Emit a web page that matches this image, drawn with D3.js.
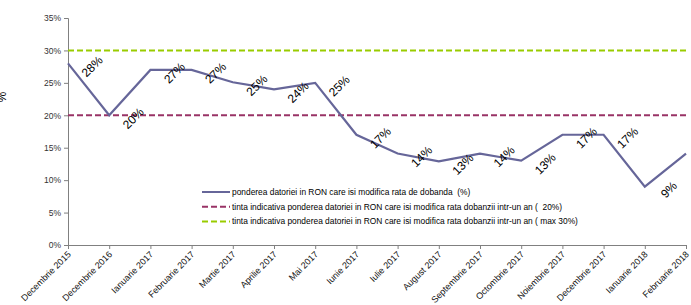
<!DOCTYPE html>
<html>
<head>
<meta charset="utf-8">
<script src="https://cdn.jsdelivr.net/npm/d3@7"></script>
<style>
  body { margin: 0; background: #fff; }
  svg { font-family: "Liberation Sans", Arial, sans-serif; }
</style>
</head>
<body>
<svg id="chart"></svg>
<script>
var width = 691, height = 305;

var categories = ["Decembrie 2015", "Decembrie 2016", "Ianuarie 2017", "Februarie 2017",
  "Martie 2017", "Aprilie 2017", "Mai 2017", "Iunie 2017", "Iulie 2017", "August 2017",
  "Septembrie 2017", "Octombrie 2017", "Noiembrie 2017", "Decembrie 2017",
  "Ianuarie 2018", "Februarie 2018"];
var pondere = [0.28, 0.20, 0.27, 0.27, 0.251, 0.24, 0.25, 0.17, 0.141, 0.129,
  0.141, 0.13, 0.17, 0.17, 0.09, 0.141];
var tinta20 = 0.20;
var tinta30 = 0.30;
var yTicks = [0, 0.05, 0.10, 0.15, 0.20, 0.25, 0.30, 0.35];
var legendLabels = [
  "ponderea datoriei in RON care isi modifica rata de dobanda  (%)",
  "tinta indicativa ponderea datoriei in RON care isi modifica rata dobanzii intr-un an (  20%)",
  "tinta indicativa ponderea datoriei in RON care isi modifica rata dobanzii intr-un an ( max 30%)"
];

var svg = d3.select("#chart").attr("width", width).attr("height", height);

var x = d3.scalePoint().domain(categories).range([68, 686]);
var y = d3.scaleLinear().domain([0, 0.35]).range([245, 18]);
var pct = d3.format(".0%");

// y axis
var yAxis = svg.append("g")
    .attr("transform", "translate(68,0)")
    .call(d3.axisLeft(y).tickValues(yTicks).tickFormat(pct).tickSizeOuter(0).tickSize(4).tickPadding(3));
yAxis.select(".domain").attr("stroke", "#808080");
yAxis.selectAll(".tick line").attr("stroke", "#808080");
yAxis.selectAll(".tick text").attr("fill", "#333").style("font-size", "8.5px")
    .style("font-family", "Liberation Sans, Arial, sans-serif");

// x axis
var xAxis = svg.append("g")
    .attr("transform", "translate(0,245)")
    .call(d3.axisBottom(x).tickSizeOuter(0).tickSize(4));
xAxis.select(".domain").attr("stroke", "#808080");
xAxis.selectAll(".tick line").attr("stroke", "#808080");
xAxis.selectAll(".tick text")
    .attr("fill", "#111")
    .style("font-size", "9px")
    .style("font-family", "Liberation Sans, Arial, sans-serif")
    .attr("text-anchor", "end")
    .attr("dy", null)
    .attr("y", 0)
    .attr("transform", "translate(3,10) rotate(-45)");

// target lines
svg.append("line")
    .attr("x1", x(categories[0])).attr("x2", x(categories[categories.length - 1]))
    .attr("y1", y(tinta20)).attr("y2", y(tinta20))
    .attr("stroke", "#993366").attr("stroke-width", 2).attr("stroke-dasharray", "6,3");
svg.append("line")
    .attr("x1", x(categories[0])).attr("x2", x(categories[categories.length - 1]))
    .attr("y1", y(tinta30)).attr("y2", y(tinta30))
    .attr("stroke", "#99CC00").attr("stroke-width", 2).attr("stroke-dasharray", "6,3");

// main series
var line = d3.line()
    .x(function (d, i) { return x(categories[i]); })
    .y(function (d) { return y(d); });

svg.append("path")
    .datum(pondere)
    .attr("d", line)
    .attr("fill", "none")
    .attr("stroke", "#666699")
    .attr("stroke-width", 2.2);

// data labels
svg.selectAll(".lbl")
    .data(pondere)
    .enter().append("text")
    .attr("class", "lbl")
    .attr("transform", function (d, i) {
        return "translate(" + (x(categories[i]) + 24) + "," + (y(d) + 3) + ") rotate(-45)";
    })
    .attr("text-anchor", "middle")
    .attr("dy", "0.35em")
    .style("font-size", "12px")
    .attr("fill", "#000")
    .text(function (d) { return pct(d); });

// legend
var legend = svg.append("g").attr("transform", "translate(202,192)");
var legendStyles = [
  { color: "#666699", dash: null },
  { color: "#993366", dash: "6,3" },
  { color: "#99CC00", dash: "6,3" }
];
legendLabels.forEach(function (t, i) {
    var row = legend.append("g").attr("transform", "translate(0," + (i * 14.7) + ")");
    row.append("line")
        .attr("x1", 0).attr("x2", 28).attr("y1", 0).attr("y2", 0)
        .attr("stroke", legendStyles[i].color).attr("stroke-width", 2)
        .attr("stroke-dasharray", legendStyles[i].dash);
    row.append("text")
        .attr("x", 30).attr("y", 0).attr("dy", "0.35em")
        .style("font-size", "8.4px").style("white-space", "pre").attr("fill", "#000")
        .text(t);
});

// cut-off axis title at left edge
svg.append("text")
    .attr("transform", "translate(-3,97) rotate(90)")
    .attr("text-anchor", "middle")
    .style("font-size", "12px")
    .text("%");
</script>
</body>
</html>
